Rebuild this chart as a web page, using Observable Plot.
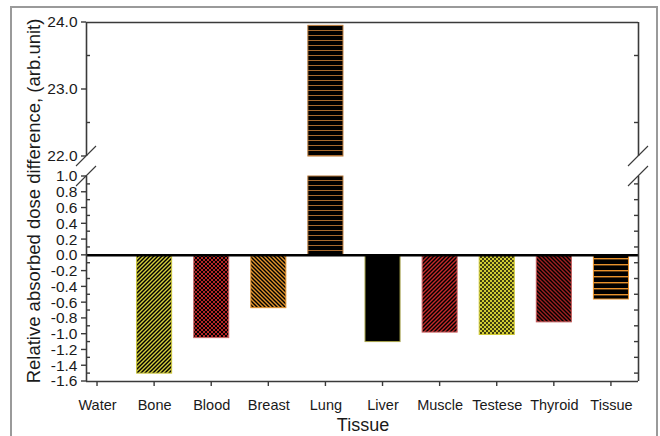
<!DOCTYPE html>
<html><head><meta charset="utf-8">
<script src="https://cdn.jsdelivr.net/npm/d3@7"></script>
<script src="https://cdn.jsdelivr.net/npm/@observablehq/plot@0.6"></script>
<style>
html,body{margin:0;padding:0;background:#fff;}
#chart{position:relative;width:660px;height:436px;overflow:hidden;}
</style></head><body><div id="chart"></div>
<script>
// ---- data ----
const categories = ["Water","Bone","Blood","Breast","Lung","Liver","Muscle","Testese","Thyroid","Tissue"];
const values = [0, -1.50, -1.05, -0.67, 23.95, -1.10, -0.98, -1.01, -0.85, -0.56];
const fills = ["none","url(#p-bone)","url(#p-blood)","url(#p-breast)","url(#p-lung)","#000000","url(#p-muscle)","url(#p-testese)","url(#p-thyroid)","url(#p-tissue)"];
const strokes = ["none","#c9c43a","#c86a6a","#e0902c","#b27436","#a8a44a","#d06a6a","#cfca36","#c25a5a","#e8922c"];
const yTicksLow = [-1.6,-1.4,-1.2,-1.0,-0.8,-0.6,-0.4,-0.2,0.0,0.2,0.4,0.6,0.8,1.0];
const yTicksHigh = [22.0, 23.0, 24.0];
const yMinorLow = [-1.5,-1.3,-1.1,-0.9,-0.7,-0.5,-0.3,-0.1,0.1,0.3,0.5,0.7,0.9];
const yMinorHigh = [22.5, 23.5];
const breakLow = 1.0, breakHigh = 22.0;
const yLowDomain = [-1.6, 1.0], yHighDomain = [22.0, 24.0];
const xDomain = [-0.193, 9.474];
const xTitle = "Tissue";
const yTitle = "Relative absorbed dose difference, (arb.unit)";

// split bars that cross the axis break into two segments
const segs = [];
values.forEach((v, i) => {
  if (v === 0) return;
  if (v > breakLow) { segs.push({i, y1: 0, y2: breakLow}); segs.push({i, y1: breakHigh, y2: v}); }
  else segs.push({i, y1: 0, y2: v});
});
const frameSegs = [{y1: yLowDomain[0], y2: yLowDomain[1]}, {y1: yHighDomain[0], y2: yHighDomain[1]}];
const font = "'Liberation Sans', Arial, sans-serif";

const svgEl = Plot.plot({
  width: 660, height: 436,
  marginLeft: 86, marginRight: 22, marginTop: 22, marginBottom: 55,
  x: {type: "linear", domain: xDomain, axis: null},
  y: {type: "linear", domain: [yLowDomain[0], yLowDomain[1], yHighDomain[0], yHighDomain[1]], range: [381, 176, 156, 22], axis: null},
  color: {type: "identity"},
  style: {fontFamily: font, background: "white", overflow: "visible"},
  marks: [
    Plot.rect(segs, {x1: d => d.i - 0.307, x2: d => d.i + 0.307, y1: "y1", y2: "y2",
      fill: d => fills[d.i], stroke: d => strokes[d.i], strokeWidth: 1}),
    Plot.ruleY([0], {stroke: "#000", strokeWidth: 2.5}),
    Plot.ruleY([yLowDomain[0], yHighDomain[1]], {stroke: "#3a3a3a", strokeWidth: 1.6}),
    Plot.ruleX(frameSegs, {x: () => xDomain[0], y1: "y1", y2: "y2", stroke: "#3a3a3a", strokeWidth: 1.6}),
    Plot.ruleX(frameSegs, {x: () => xDomain[1], y1: "y1", y2: "y2", stroke: "#3a3a3a", strokeWidth: 1.6}),
    Plot.text(yTicksLow.concat(yTicksHigh), {x: () => xDomain[0], y: d => d, text: d => d.toFixed(1),
      textAnchor: "end", dx: -9, fontSize: 15.5, fill: "#1a1a1a"}),
    Plot.text(categories, {x: (d, i) => i, y: () => yLowDomain[0], text: d => d, dy: 24, fontSize: 14.5, fill: "#1a1a1a"})
  ]
});
document.getElementById("chart").appendChild(svgEl);

const svg = d3.select(svgEl);
const sx = svgEl.scale("x"), sy = svgEl.scale("y");
const X0 = sx.apply(xDomain[0]), X1 = sx.apply(xDomain[1]);
const g = svg.append("g").attr("stroke", "#3a3a3a").attr("stroke-width", 1.4).attr("fill", "none");
// major ticks (outward, left)
yTicksLow.concat(yTicksHigh).forEach(v => {
  const y = sy.apply(v);
  g.append("line").attr("x1", X0 - 5).attr("x2", X0).attr("y1", y).attr("y2", y);
});
// minor ticks (inward, left and right)
yMinorLow.concat(yMinorHigh).forEach(v => {
  const y = sy.apply(v);
  g.append("line").attr("x1", X0).attr("x2", X0 + 4).attr("y1", y).attr("y2", y);
  g.append("line").attr("x1", X1 - 4).attr("x2", X1).attr("y1", y).attr("y2", y);
});
// x ticks
categories.forEach((c, i) => {
  const x = sx.apply(i), y = sy.apply(yLowDomain[0]);
  g.append("line").attr("x1", x).attr("x2", x).attr("y1", y).attr("y2", y + 5);
});
// break marks
[breakLow, breakHigh].forEach(v => {
  const y = sy.apply(v);
  [X0, X1].forEach(x => {
    g.append("line").attr("x1", x - 10).attr("x2", x + 10).attr("y1", y + 10).attr("y2", y - 10).attr("stroke-width", 1.1);
  });
});
// titles
svg.append("text").attr("transform", "translate(33,201) rotate(-90)")
  .attr("text-anchor", "middle").attr("dominant-baseline", "central")
  .attr("font-family", font).attr("font-size", 18.5).attr("fill", "#1a1a1a").text(yTitle);
svg.append("text").attr("x", 363).attr("y", 425)
  .attr("text-anchor", "middle").attr("dominant-baseline", "central")
  .attr("font-family", font).attr("font-size", 18).attr("fill", "#1a1a1a").text(xTitle);
// outer border
svg.append("rect").attr("x", 11).attr("y", 7).attr("width", 646).attr("height", 450)
  .attr("fill", "none").attr("stroke", "#9a9a9a").attr("stroke-width", 2);

// patterns
const defs = svg.insert("defs", ":first-child");
function pattern(id, w, h, bg) {
  const p = defs.append("pattern").attr("id", id).attr("patternUnits", "userSpaceOnUse")
    .attr("width", w).attr("height", h);
  p.append("rect").attr("width", w).attr("height", h).attr("fill", bg);
  return p;
}
const fwd = "M-1,1 L1,-1 M0,4 L4,0 M3,5 L5,3";
const bwd = "M-1,3 L1,5 M0,0 L4,4 M3,-1 L5,1";
pattern("p-bone", 4, 4, "#000").append("path").attr("d", fwd).attr("stroke", "#d4ce3c").attr("stroke-width", 1.4);
pattern("p-muscle", 4, 4, "#000").append("path").attr("d", fwd).attr("stroke", "#c42a2a").attr("stroke-width", 1.4);
pattern("p-breast", 4, 4, "#000").append("path").attr("d", bwd).attr("stroke", "#e2942c").attr("stroke-width", 1.4);
pattern("p-thyroid", 4, 4, "#000").append("path").attr("d", bwd).attr("stroke", "#9e2020").attr("stroke-width", 1.4);
const pb = pattern("p-blood", 4, 4, "#000");
pb.append("path").attr("d", fwd + " " + bwd).attr("stroke", "#b42626").attr("stroke-width", 1);
const pt = pattern("p-testese", 4, 4, "#d2cc34");
pt.append("circle").attr("cx", 1).attr("cy", 1).attr("r", 0.95).attr("fill", "#000");
pt.append("circle").attr("cx", 3).attr("cy", 3).attr("r", 0.95).attr("fill", "#000");
pattern("p-lung", 10, 5, "#000").append("rect").attr("y", 0).attr("width", 10).attr("height", 1).attr("fill", "#a86a2e");
pattern("p-tissue", 10, 6, "#000").append("rect").attr("y", 0).attr("width", 10).attr("height", 1.4).attr("fill", "#e8922c");
</script>
</body></html>
